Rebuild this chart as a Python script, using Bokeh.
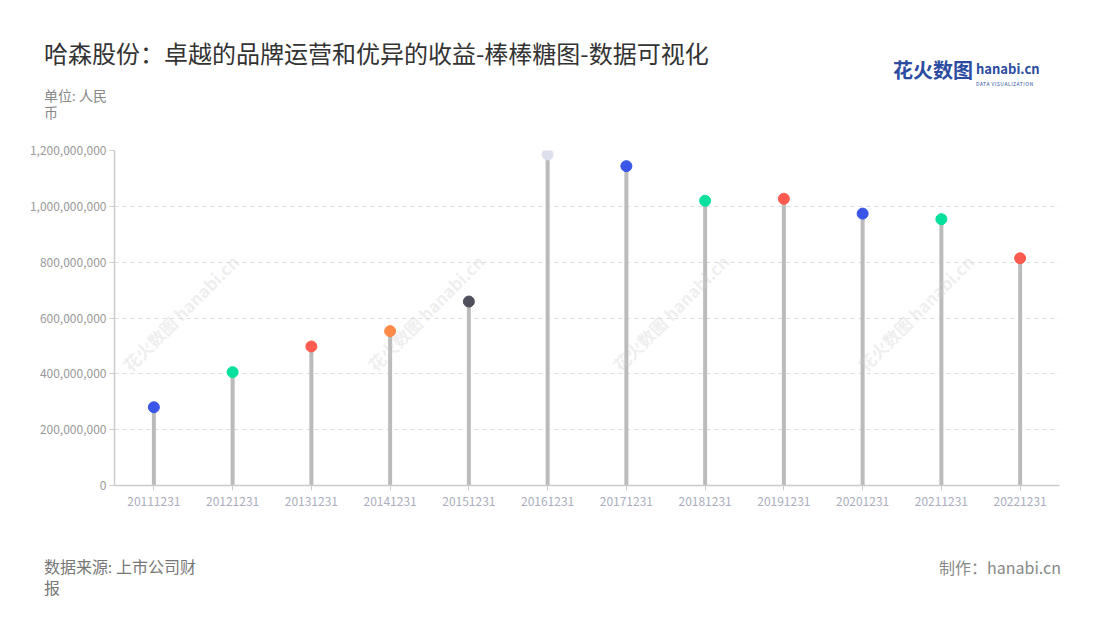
from bokeh.plotting import figure
from bokeh.layouts import column
from bokeh.models import (FactorRange, Range1d, FixedTicker, NumeralTickFormatter, Label,
                          ColumnDataSource, Div)
from bokeh.embed import file_html
from bokeh.resources import INLINE

# ---- data ----
categories = ["20111231", "20121231", "20131231", "20141231", "20151231", "20161231",
              "20171231", "20181231", "20191231", "20201231", "20211231", "20221231"]
values = [280500000, 406000000, 498000000, 553000000, 659000000, 1186000000,
          1144000000, 1020000000, 1027000000, 974000000, 954000000, 814000000]
colors = ["#3a56e8", "#05e09c", "#ff5a4f", "#ff8a48", "#50505c", "#dde0ec",
          "#3a56e8", "#05e09c", "#ff5a4f", "#3a56e8", "#05e09c", "#ff5a4f"]
y_ticks = [0, 200000000, 400000000, 600000000, 800000000, 1000000000, 1200000000]

title_text = "哈森股份：卓越的品牌运营和优异的收益-棒棒糖图-数据可视化"
unit_lines = ["单位: 人民", "币"]
source_lines = ["数据来源: 上市公司财", "报"]
maker_text = "制作：hanabi.cn"

W = 1090
FONT = "'Noto Sans CJK SC', 'Noto Sans', sans-serif"
COMPACT = "font-family:Lato, 'Noto Sans CJK SC', sans-serif;"


def span(text, left=None, top=0, size=13, color="#888", weight="normal", right=None,
         lh=None, extra=""):
    pos = f"left:{left}px;" if left is not None else f"right:{right}px;"
    line_h = f"{lh}px" if lh else "1"
    return (f'<span style="position:absolute;{pos}top:{top}px;font-size:{size}px;'
            f'line-height:{line_h};color:{color};font-weight:{weight};white-space:nowrap;{extra}">'
            f'{text}</span>')


def box(inner, h):
    return (f'<div style="position:relative;width:{W}px;height:{h}px;'
            f'font-family:{FONT};">{inner}</div>')


# ---- header (page y 0..130) ----
header_html = (
    span(title_text, left=44, top=41, size=24, color="#333333")
    + span("<br>".join(unit_lines), left=44, top=87, size=14, color="#888888", lh=17, extra=COMPACT)
    + span("花火数图", left=893, top=60, size=20, color="#2b4ca0", weight="bold")
    + span("hanabi.cn", left=976, top=62, size=13, color="#2b4ca0", weight="bold")
    + span("DATA VISUALIZATION", left=976, top=81, size=5, color="#2b4ca0", extra="letter-spacing:0.5px;")
)
header = Div(text=box(header_html, 130), width=W, height=130, margin=0)

# ---- main chart (page y 130..530) ----
src = ColumnDataSource(dict(cat=categories, val=values, zero=[0] * len(values), col=colors))

p = figure(width=W, height=400, output_backend="svg", toolbar_location=None,
           x_range=FactorRange(*categories, range_padding=0), y_range=Range1d(0, 1200000000),
           min_border_left=114, min_border_right=31, min_border_top=20, min_border_bottom=45)
p.outline_line_color = None
p.background_fill_color = "white"
p.border_fill_color = "white"

# watermarks (faint)
for sx in [20, 265, 510, 755]:
    p.add_layout(Label(x=sx, y=109, x_units="screen", y_units="screen", text="花火数图 hanabi.cn",
                       text_font="Noto Sans CJK SC", text_font_size="17px", text_color="#d0d0d0",
                       text_font_style="bold", angle=45, angle_units="deg", text_alpha=0.35))

p.segment(x0="cat", y0="zero", x1="cat", y1="val", source=src, line_color="#bbbbbb", line_width=4)
p.scatter(x="cat", y="val", source=src, size=11, fill_color="col", line_color="col")

p.xgrid.grid_line_color = None
p.ygrid.grid_line_color = "#dedede"
p.ygrid.grid_line_dash = "4 4"
p.yaxis.ticker = FixedTicker(ticks=y_ticks)
p.yaxis.formatter = NumeralTickFormatter(format="0,0")
for ax in (p.xaxis[0], p.yaxis[0]):
    ax.axis_line_color = "#cccccc"
    ax.axis_line_width = 1.5
    ax.major_tick_line_color = "#cccccc"
    ax.major_tick_out = 5
    ax.major_tick_in = 0
    ax.minor_tick_line_color = None
    ax.major_label_text_font = "Noto Sans CJK SC"
    ax.major_label_text_font_size = "12px"
p.yaxis.major_label_text_color = "#999999"
p.xaxis.major_label_text_color = "#a9adbd"
p.yaxis.major_label_standoff = 3
p.xaxis.major_label_standoff = 6

# ---- footer (page y 530..610) ----
footer_html = (
    span("<br>".join(source_lines), left=44, top=26, size=16, color="#777777", lh=21, extra=COMPACT)
    + span(maker_text, right=W - 1061, top=29, size=16, color="#888888")
)
footer = Div(text=box(footer_html, 80), width=W, height=80, margin=0)

layout = column(header, p, footer, spacing=0)
open("out.html", "w").write(file_html(layout, INLINE))
